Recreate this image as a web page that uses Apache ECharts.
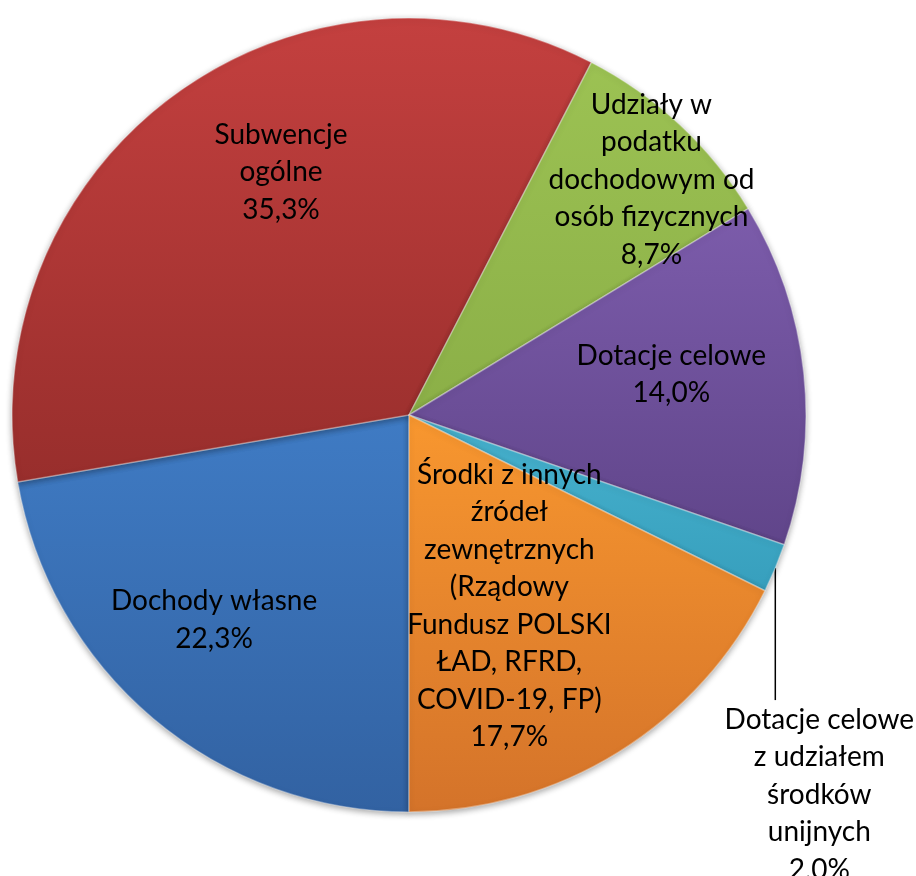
<!DOCTYPE html>
<html>
<head>
<meta charset="utf-8">
<script src="https://cdn.jsdelivr.net/npm/echarts@6/dist/echarts.min.js"></script>
<style>
html,body{margin:0;padding:0;background:#fff;}
#chart{width:916px;height:876px;}
</style>
</head>
<body>
<div id="chart"></div>
<script>
// Categories (in drawing order, clockwise from 6 o'clock)
const categories = [
  'Dochody własne',
  'Subwencje ogólne',
  'Udziały w podatku dochodowym od osób fizycznych',
  'Dotacje celowe',
  'Dotacje celowe z udziałem środków unijnych',
  'Środki z innych źródeł zewnętrznych (Rządowy Fundusz POLSKI ŁAD, RFRD, COVID-19, FP)'
];
// Label text with line breaks as in the reference
const labelTexts = [
  'Dochody własne',
  'Subwencje\nogólne',
  'Udziały w\npodatku\ndochodowym od\nosób fizycznych',
  'Dotacje celowe',
  'Dotacje celowe\nz udziałem\nśrodków\nunijnych',
  'Środki z innych\nźródeł\nzewnętrznych\n(Rządowy\nFundusz POLSKI\nŁAD, RFRD,\nCOVID-19, FP)'
];
// Shares in percent
const values = [22.3, 35.3, 8.7, 14.0, 2.0, 17.7];

// Styles (gradient top/bottom per slice)
const colorsTop = ['#3F7BC4', '#C4403F', '#9CC253', '#7C5CAB', '#47B2CE', '#F8972F'];
const colorsBottom = ['#3262A2', '#982E2C', '#8BAF47', '#60458A', '#379FBD', '#D4732A'];
// label offsets relative to the library's inside position
const labelShift = [[-65, 51], [-9, -80], [105, -88], [62, -19], [0, 0], [-6, 20]];

function fmt(v) { return v.toFixed(1).replace('.', ',') + '%'; }

const chart = echarts.init(document.getElementById('chart'), null, { renderer: 'canvas' });

const data = categories.map((name, i) => {
  const item = {
    name: name,
    value: values[i],
    itemStyle: {
      color: {
        type: 'linear', x: 0, y: 0, x2: 0, y2: 1,
        colorStops: [{ offset: 0, color: colorsTop[i] }, { offset: 1, color: colorsBottom[i] }]
      }
    }
  };
  if (i === 4) {
    item.label = { position: 'outside', align: 'center' };
    item.labelLine = { show: true, length: 5, length2: 5, lineStyle: { color: '#000', width: 1.5 } };
  }
  return item;
});

chart.setOption({
  animation: false,
  backgroundColor: '#fff',
  series: [{
    type: 'pie',
    center: [409, 415],
    radius: [0, 397],
    startAngle: -90,
    clockwise: true,
    avoidLabelOverlap: false,
    data: data,
    itemStyle: {
      borderColor: 'rgba(255,255,255,0.35)',
      borderWidth: 1.5,
      shadowBlur: 6,
      shadowColor: 'rgba(0,0,0,0.35)',
      shadowOffsetY: 2
    },
    label: {
      show: true,
      position: 'inside',
      color: '#000',
      fontFamily: 'Lato',
      fontSize: 28,
      lineHeight: 37.5,
      align: 'center',
      formatter: p => labelTexts[p.dataIndex] + '\n' + fmt(p.value)
    },
    labelLine: { show: false },
    labelLayout: function (params) {
      const i = params.dataIndex;
      if (i === 4) {
        const p0 = params.labelLinePoints ? params.labelLinePoints[0] : [774, 567];
        const yEnd = p0[1] + 132;
        return {
          x: p0[0] + 44,
          y: yEnd + 1,
          align: 'center',
          verticalAlign: 'top',
          labelLinePoints: [p0, [p0[0], yEnd], [p0[0], yEnd]]
        };
      }
      return { dx: labelShift[i][0], dy: labelShift[i][1] };
    }
  }]
});
</script>
</body>
</html>
